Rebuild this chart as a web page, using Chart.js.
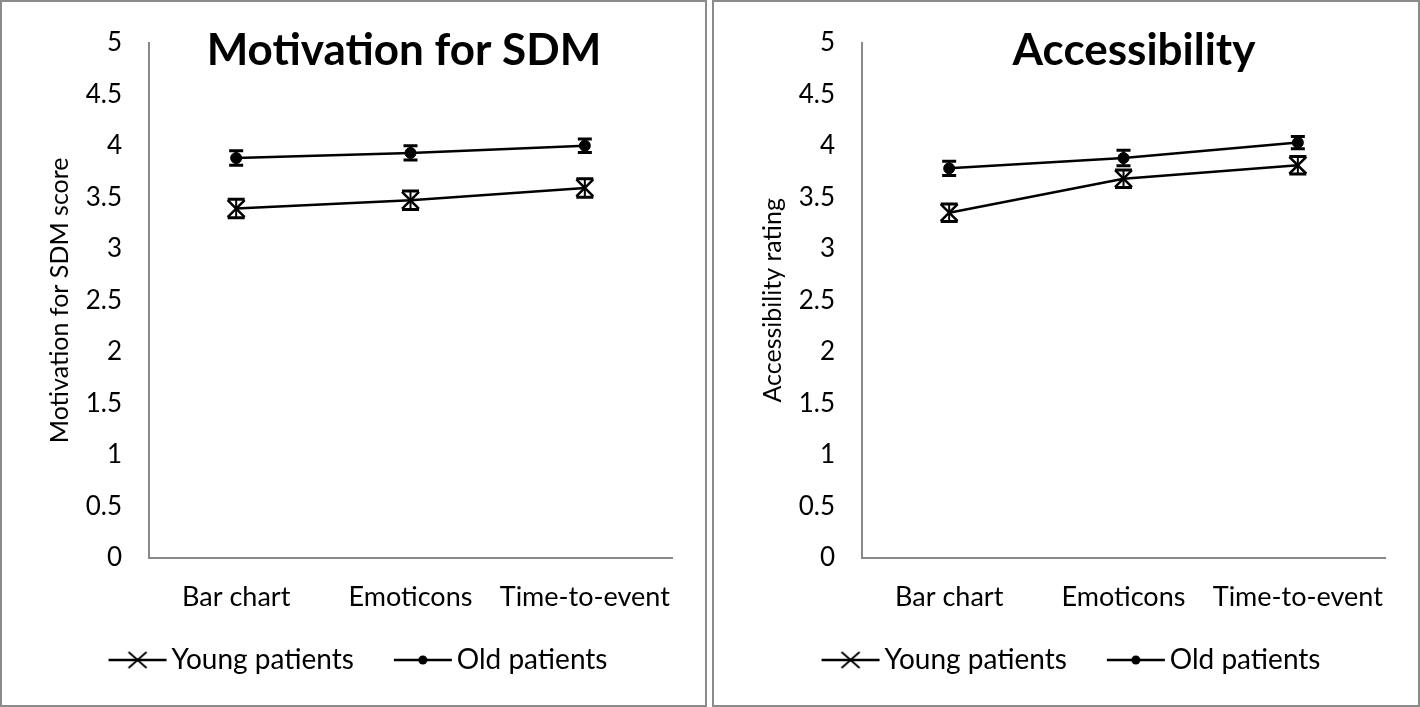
<!DOCTYPE html>
<html>
<head>
<meta charset="utf-8">
<script src="https://cdn.jsdelivr.net/npm/chart.js@4"></script>
<style>
body { margin: 0; background: #fff; width: 1420px; height: 707px; position: relative; overflow: hidden; }
canvas { position: absolute; top: 0; }
.panel { position: absolute; top: 0; height: 707px; box-sizing: border-box; border: 2px solid #8c8c8c; }
</style>
</head>
<body>
<canvas id="motivChart" width="707" height="707" style="left:0"></canvas>
<canvas id="accessChart" width="707" height="707" style="left:713px"></canvas>
<div class="panel" style="left:0;width:707px"></div>
<div class="panel" style="left:712px;width:708px"></div>
<script>
const categories = ['Bar chart', 'Emoticons', 'Time-to-event'];
const seriesNames = ['Young patients', 'Old patients'];

// Motivation for SDM (mean and error)
const motivYoung = [3.39, 3.47, 3.59];
const motivYoungErr = [0.09, 0.09, 0.09];
const motivOld = [3.88, 3.93, 4.00];
const motivOldErr = [0.07, 0.07, 0.065];

// Accessibility rating
const accessYoung = [3.35, 3.68, 3.81];
const accessYoungErr = [0.085, 0.085, 0.085];
const accessOld = [3.78, 3.88, 4.03];
const accessOldErr = [0.07, 0.075, 0.06];

Chart.defaults.font.family = 'Lato';
Chart.defaults.color = '#000';

const axisGray = '#898989';

// draws the little vertical error bars with caps
const errorBars = {
  id: 'errorBars',
  afterDatasetsDraw(chart) {
    const ctx = chart.ctx;
    const y = chart.scales.y;
    chart.data.datasets.forEach((ds, i) => {
      const meta = chart.getDatasetMeta(i);
      meta.data.forEach((pt, j) => {
        const top = y.getPixelForValue(ds.data[j] + ds.errors[j]);
        const bot = y.getPixelForValue(ds.data[j] - ds.errors[j]);
        ctx.save();
        ctx.strokeStyle = '#000';
        ctx.lineWidth = 2;
        ctx.beginPath();
        ctx.moveTo(pt.x, top);
        ctx.lineTo(pt.x, bot);
        ctx.stroke();
        ctx.lineWidth = 3;
        ctx.beginPath();
        ctx.moveTo(pt.x - ds.capHalf, top);
        ctx.lineTo(pt.x + ds.capHalf, top);
        ctx.moveTo(pt.x - ds.capHalf, bot);
        ctx.lineTo(pt.x + ds.capHalf, bot);
        ctx.stroke();
        ctx.restore();
      });
    });
  }
};

// big bold heading sitting inside the plot
const panelTitle = {
  id: 'panelTitle',
  afterDraw(chart, args, opts) {
    const ctx = chart.ctx;
    ctx.save();
    ctx.font = 'bold 44px Lato';
    ctx.fillStyle = '#000';
    ctx.textAlign = 'center';
    ctx.textBaseline = 'middle';
    ctx.fillText(opts.text, opts.x, opts.y);
    ctx.restore();
  }
};

// legend glyph: line with the marker in the middle, transparent margin on the left
const legendIcon = (kind) => {
  const c = document.createElement('canvas');
  c.width = 81;
  c.height = 20;
  const g = c.getContext('2d');
  g.strokeStyle = '#000';
  g.fillStyle = '#000';
  g.lineWidth = 2.5;
  g.beginPath();
  g.moveTo(20, 10);
  g.lineTo(78, 10);
  g.stroke();
  if (kind === 'x') {
    g.lineWidth = 1.8;
    g.beginPath();
    g.moveTo(40, 2); g.lineTo(58, 18);
    g.moveTo(58, 2); g.lineTo(40, 18);
    g.stroke();
  } else {
    g.beginPath();
    g.arc(49, 10, 4.5, 0, 2 * Math.PI);
    g.fill();
  }
  return c;
};
const icons = [legendIcon('x'), legendIcon('dot')];

const makeChart = (id, heading, headingX, yTitle, young, youngErr, old, oldErr) => {
  const config = {
    type: 'line',
    data: {
      labels: categories,
      datasets: [
        {
          label: seriesNames[0], data: young, errors: youngErr, capHalf: 8.5,
          borderColor: '#000', borderWidth: 2.5,
          pointStyle: 'crossRot', pointRadius: 12, pointBorderWidth: 2.5,
          pointBorderColor: '#000', pointBackgroundColor: '#000'
        },
        {
          label: seriesNames[1], data: old, errors: oldErr, capHalf: 7,
          borderColor: '#000', borderWidth: 2.5,
          pointStyle: 'circle', pointRadius: 5.5, pointBorderWidth: 1,
          pointBorderColor: '#000', pointBackgroundColor: '#000'
        }
      ]
    },
    options: {
      responsive: false,
      animation: false,
      devicePixelRatio: 1,
      layout: { padding: { top: 34, right: 35, bottom: 23, left: 36 } },
      scales: {
        x: {
          offset: true,
          grid: { display: false, drawTicks: false },
          border: { color: axisGray, width: 2 },
          ticks: { padding: 23, font: { size: 27 }, maxRotation: 0, autoSkip: false },
          afterFit: (s) => { s.height = 56; }
        },
        y: {
          min: 0,
          max: 5,
          grid: { display: false, drawTicks: false },
          border: { color: axisGray, width: 2 },
          ticks: { stepSize: 0.5, padding: 27, font: { size: 26 }, callback: (v) => String(v) },
          title: { display: true, text: yTitle, font: { size: 25 }, padding: { top: 9, bottom: 0 } },
          afterFit: (s) => { s.width = 113; }
        }
      },
      plugins: {
        tooltip: { enabled: false },
        legend: {
          position: 'bottom',
          labels: {
            usePointStyle: true,
            pointStyleWidth: 57,
            padding: 32,
            font: { size: 28 },
            generateLabels: (chart) => chart.data.datasets.map((ds, i) => ({
              text: ds.label, pointStyle: icons[i], fontColor: '#000',
              fillStyle: '#000', strokeStyle: '#000', lineWidth: 0, hidden: false, datasetIndex: i
            }))
          }
        },
        panelTitle: { text: heading, x: headingX, y: 51 }
      }
    },
    plugins: [errorBars, panelTitle]
  };
  return new Chart(document.getElementById(id), config);
};

makeChart('motivChart', 'Motivation for SDM', 404, 'Motivation for SDM score',
  motivYoung, motivYoungErr, motivOld, motivOldErr);
makeChart('accessChart', 'Accessibility', 421, 'Accessibility rating',
  accessYoung, accessYoungErr, accessOld, accessOldErr);
</script>
</body>
</html>
